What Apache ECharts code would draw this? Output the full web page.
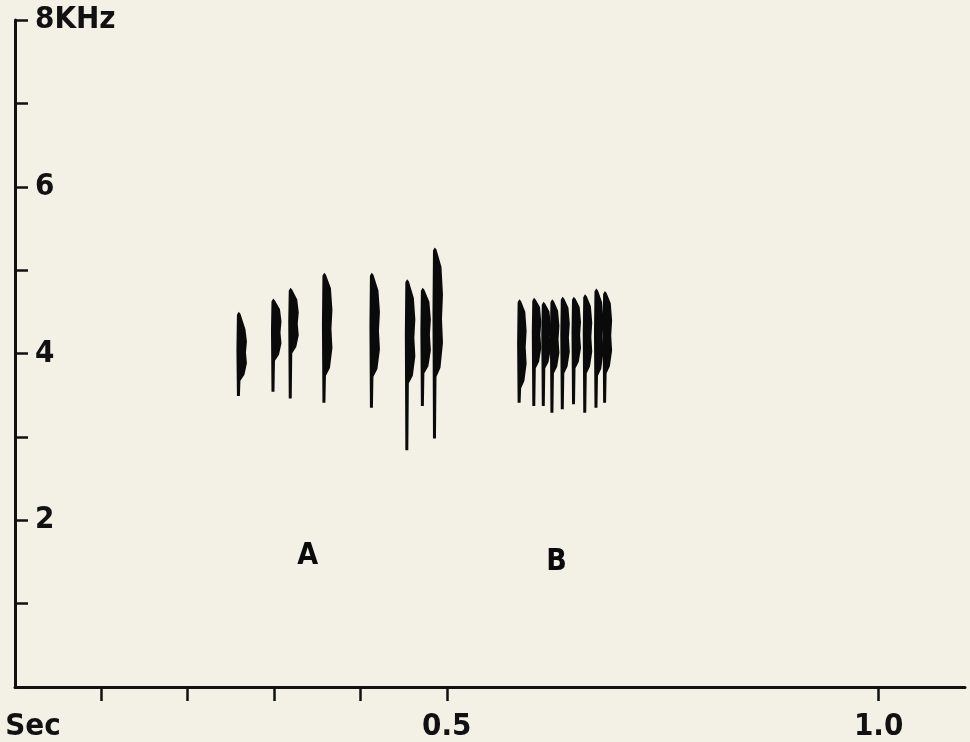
<!DOCTYPE html>
<html>
<head>
<meta charset="utf-8">
<script src="https://cdn.jsdelivr.net/npm/echarts@6/dist/echarts.min.js"></script>
<style>
html,body{margin:0;padding:0;background:#f3f0e6;}
#c{width:970px;height:742px;}
</style>
</head>
<body>
<div id="c"></div>
<script>
// Song A syllables: time (s), highest freq, lowest freq, body top freq, body bottom freq (kHz)
const songATime   = [0.259, 0.299, 0.319, 0.358, 0.413, 0.454, 0.472, 0.486];
const songAHigh   = [4.50, 4.66, 4.79, 4.97, 4.97, 4.89, 4.79, 5.27];
const songALow    = [3.49, 3.54, 3.46, 3.41, 3.35, 2.84, 3.37, 2.98];
const songABodyHi = [4.37, 4.61, 4.73, 4.92, 4.89, 4.80, 4.73, 5.21];
const songABodyLo = [3.72, 3.96, 4.05, 3.78, 3.77, 3.69, 3.81, 3.77];

// Song B syllables
const songBTime   = [0.584, 0.601, 0.612, 0.622, 0.634, 0.647, 0.660, 0.673, 0.683];
const songBHigh   = [4.65, 4.67, 4.62, 4.65, 4.68, 4.68, 4.71, 4.78, 4.75];
const songBLow    = [3.41, 3.37, 3.37, 3.29, 3.33, 3.39, 3.29, 3.35, 3.41];
const songBBodyHi = [4.62, 4.65, 4.59, 4.61, 4.65, 4.65, 4.67, 4.73, 4.71];
const songBBodyLo = [3.63, 3.87, 3.87, 3.81, 3.81, 3.87, 3.81, 3.78, 3.81];

const songLabels  = ['A', 'B'];
const songLabelX  = [0.339, 0.627];
const songLabelY  = [1.57, 1.50];

const xTicks  = [0.1, 0.2, 0.3, 0.4, 0.5, 1.0];
const xLabels = [0, 0.5, 1.0];

const FONT = '"Liberation Sans Narrow", "DejaVu Sans Condensed", "Liberation Sans", sans-serif';

function build(t, hi, lo, bhi, blo) {
  return t.map((v, i) => [v, hi[i], lo[i], bhi[i], blo[i]]);
}

function makeRender(w, thin) {
  return function (params, api) {
    const x = api.value(0);
    const pTop = api.coord([x, api.value(1)]);
    const pBot = api.coord([x, api.value(2)]);
    const pBT = api.coord([x, api.value(3)]);
    const pBB = api.coord([x, api.value(4)]);
    const L = pTop[0] - thin / 2;
    const yT = pTop[1], yB = pBot[1], yBT = pBT[1], yBB = pBB[1];
    const h = yBB - yBT;
    const pts = [
      [L + thin * 0.5, yT],
      [L + thin, yT + 2],
      [L + w * 0.85, yBT + h * 0.12],
      [L + w, yBT + h * 0.35],
      [L + w * 0.9, yBT + h * 0.55],
      [L + w, yBT + h * 0.75],
      [L + w * 0.75, yBB - h * 0.04],
      [L + thin, yBB + 4],
      [L + thin * 0.85, yB],
      [L, yB],
      [L - 0.5, yBT + h * 0.5],
      [L, yT + 3]
    ];
    return {
      type: 'polygon',
      shape: { points: pts },
      style: { fill: '#0a0a0a' }
    };
  };
}

const chart = echarts.init(document.getElementById('c'), null, { renderer: 'canvas' });
chart.setOption({
  backgroundColor: '#f3f0e6',
  animation: false,
  grid: { left: 15, right: 5, top: 20, bottom: 54, containLabel: false },
  xAxis: {
    type: 'value', min: 0, max: 1.1,
    axisLine: { show: true, lineStyle: { color: '#111', width: 3 } },
    axisTick: { show: true, customValues: xTicks, length: 14, inside: false, lineStyle: { color: '#111', width: 2.5 } },
    axisLabel: {
      show: true, customValues: xLabels, margin: 24,
      color: '#111', fontFamily: FONT, fontWeight: 'bold', fontSize: 31,
      formatter: function (v) {
        if (v === 0) return '{s|Sec}';
        return v.toFixed(1);
      },
      rich: { s: { fontFamily: FONT, fontWeight: 'bold', fontSize: 31, color: '#111', padding: [0, 0, 0, 36] } }
    },
    splitLine: { show: false }
  },
  yAxis: {
    type: 'value', min: 0, max: 8, interval: 1,
    axisLine: { show: true, lineStyle: { color: '#111', width: 3 } },
    axisTick: { show: true, inside: true, length: 13, lineStyle: { color: '#111', width: 2.5 } },
    axisLabel: {
      show: true, inside: true, margin: 20,
      color: '#111', fontFamily: FONT, fontWeight: 'bold', fontSize: 31,
      formatter: function (v) {
        if (v === 8) return '8KHz';
        if (v === 0) return '';
        return (v % 2 === 0) ? String(v) : '';
      }
    },
    splitLine: { show: false }
  },
  series: [
    {
      type: 'custom', name: 'A', renderItem: makeRender(10, 3.5),
      data: build(songATime, songAHigh, songALow, songABodyHi, songABodyLo),
      encode: { x: 0, y: [1, 2] }, silent: true
    },
    {
      type: 'custom', name: 'B', renderItem: makeRender(9, 3.5),
      data: build(songBTime, songBHigh, songBLow, songBBodyHi, songBBodyLo),
      encode: { x: 0, y: [1, 2] }, silent: true
    },
    {
      type: 'scatter', symbolSize: 0, silent: true,
      itemStyle: { opacity: 1 },
      data: songLabels.map((n, i) => ({ name: n, value: [songLabelX[i], songLabelY[i]] })),
      label: {
        show: true, position: 'inside', formatter: '{b}',
        color: '#0a0a0a', opacity: 1, fontFamily: FONT, fontWeight: 'bold', fontSize: 30
      }
    }
  ]
});
</script>
</body>
</html>
